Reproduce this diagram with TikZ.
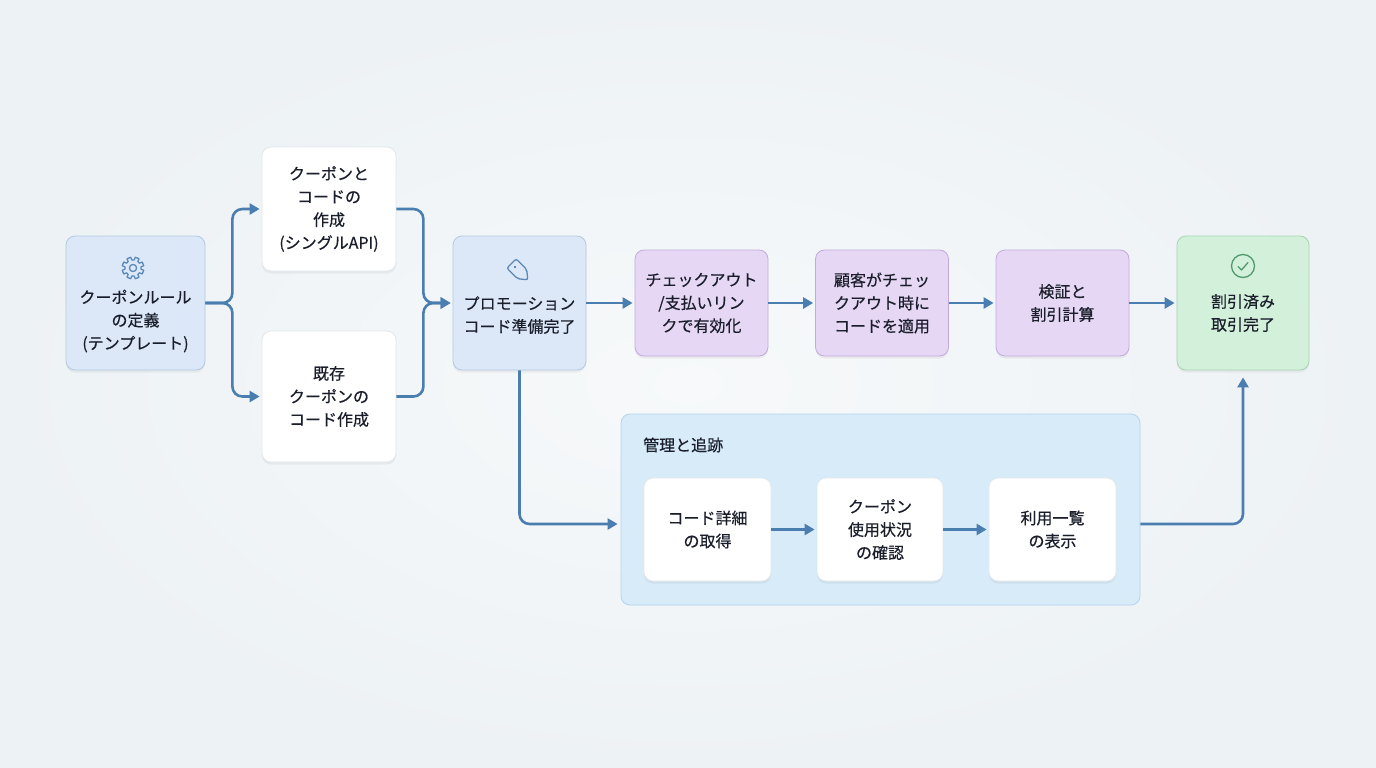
\documentclass[tikz,border=0pt]{standalone}
\usepackage{fontspec}
\setmainfont{Noto Sans CJK JP}[FakeBold=0.45]
\usetikzlibrary{arrows.meta,shadows,calc}
\definecolor{bgA}{HTML}{F7F9FA}
\definecolor{bgB}{HTML}{EDF2F5}
\definecolor{conncol}{HTML}{4A7DB0}
\definecolor{bluefill}{HTML}{DCE8F7}
\definecolor{blueline}{HTML}{B3C9E4}
\definecolor{purpfill}{HTML}{E6D7F5}
\definecolor{purpline}{HTML}{C2AADE}
\definecolor{greenfill}{HTML}{D3F0DB}
\definecolor{greenline}{HTML}{A6D4B1}
\definecolor{contfill}{HTML}{D7EBF8}
\definecolor{contline}{HTML}{B3D4EC}
\definecolor{whiteline}{HTML}{E2E7EC}
\definecolor{txtcol}{HTML}{1A1E2B}
\definecolor{iconblue}{HTML}{5A88B8}
\definecolor{icongreen}{HTML}{4F9A6C}
\tikzset{
  basebox/.style={rounded corners=9pt, line width=0.8pt, align=center,
    font=\fontsize{16}{23}\selectfont, text=txtcol,
    drop shadow={opacity=0.10, shadow xshift=0pt, shadow yshift=-2.5pt}},
  bluebox/.style={basebox, fill=bluefill, draw=blueline},
  purpbox/.style={basebox, fill=purpfill, draw=purpline, minimum width=133, minimum height=106},
  greenbox/.style={basebox, fill=greenfill, draw=greenline},
  whitebox/.style={basebox, fill=white, draw=whiteline},
  subbox/.style={whitebox, minimum width=127, minimum height=103},
  label/.style={align=center, font=\fontsize{16}{23}\selectfont, text=txtcol, inner sep=0pt},
  conn/.style={draw=conncol, line width=2.6pt, rounded corners=10pt,
    -{Triangle[length=10pt,width=11pt]}, shorten >=2pt},
  iconline/.style={line width=1.3pt, line join=round, line cap=round}
}
\begin{document}
\begin{tikzpicture}[x=1pt,y=-1pt]
\useasboundingbox (0,0) rectangle (1376,768);
\shade[inner color=bgA, outer color=bgB] (0,0) rectangle (1376,768);

% container
\node[rounded corners=9pt, fill=contfill, draw=contline, line width=0.8pt,
  minimum width=519, minimum height=191] (cont) at (880.5,509.5) {};
\node[label, anchor=west] (conttitle) at (643,445) {管理と追跡};

% main boxes
\node[bluebox, minimum width=139, minimum height=134] (A) at (135.5,303) {};
\node[label] (Atext) at (135.5,321) {クーポンルール\\の定義\\(テンプレート)};
\node[whitebox, minimum width=134, minimum height=124] (B1) at (329,209) {クーポンと\\コードの\\作成\\(シングルAPI)};
\node[whitebox, minimum width=134, minimum height=131] (B2) at (329,396.5) {既存\\クーポンの\\コード作成};
\node[bluebox, minimum width=133, minimum height=134] (C) at (519.5,303) {};
\node[label] (Ctext) at (519.5,315) {プロモーション\\コード準備完了};
\node[purpbox] (D) at (701.5,303) {チェックアウト\\/支払いリン\\クで有効化};
\node[purpbox] (E) at (882,303) {顧客がチェッ\\クアウト時に\\コードを適用};
\node[purpbox] (F) at (1062.5,303) {検証と\\割引計算};
\node[greenbox, minimum width=132, minimum height=134] (G) at (1243,303) {};
\node[label] (Gtext) at (1243,313) {割引済み\\取引完了};

% sub boxes
\node[subbox] (H) at (707.5,529.5) {コード詳細\\の取得};
\node[subbox, minimum width=126] (I) at (880,529.5) {クーポン\\使用状況\\の確認};
\node[subbox] (J) at (1052.5,529.5) {利用一覧\\の表示};

% icons
\begin{scope}[shift={(133,268)}]
  \draw[iconline, draw=iconblue]
    (0:8) \foreach \a in {0,45,...,315}{
      -- (\a+8:8) -- (\a+12:11) -- (\a+33:11) -- (\a+37:8)
    } -- cycle;
  \draw[iconline, draw=iconblue] (0,0) circle (3.6);
\end{scope}
\begin{scope}[shift={(520,272)}, rotate=-45]
  \draw[iconline, draw=iconblue, rounded corners=2pt]
    (-12,-6.5) -- (3,-6.5) -- (11,0) -- (3,6.5) -- (-12,6.5) -- cycle;
  \fill[iconblue] (-7,0) circle (1.3);
\end{scope}
\begin{scope}[shift={(1243,266)}]
  \draw[iconline, draw=icongreen] (0,0) circle (11.5);
  \draw[iconline, draw=icongreen] (-5,0.5) -- (-1.5,4) -- (5,-3.5);
\end{scope}

% connectors
\draw[conn] (A.east) -- ++(27,0) |- (B1.west);
\draw[conn] (A.east) -- ++(27,0) |- (B2.west);
\draw[conn] (B1.east) -- ++(27,0) |- (C.west);
\draw[conn] (B2.east) -- ++(27,0) |- (C.west);
\draw[conn] (C.east) -- (D.west);
\draw[conn] (D.east) -- (E.west);
\draw[conn] (E.east) -- (F.west);
\draw[conn] (F.east) -- (G.west);
\draw[conn, shorten >=3pt] (C.south) |- ([yshift=-14.5pt]cont.west);
\draw[conn, shorten >=7pt] ([yshift=-14.5pt]cont.east) -| (G.south);
\draw[conn] (H.east) -- (I.west);
\draw[conn] (I.east) -- (J.west);
\end{tikzpicture}
\end{document}
